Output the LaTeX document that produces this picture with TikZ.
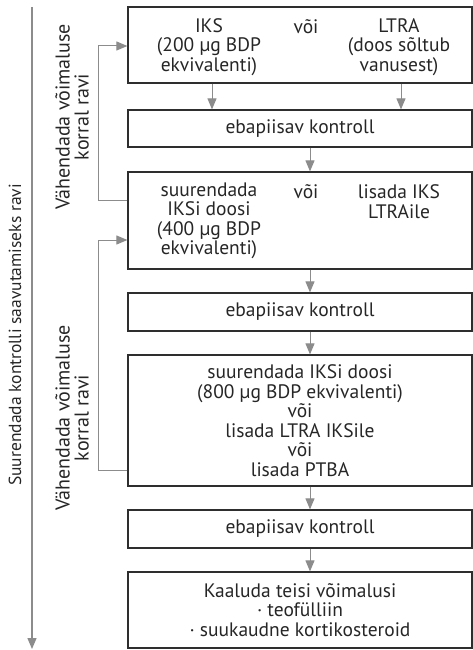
\documentclass[tikz,border=0pt]{standalone}
\usepackage{fontspec}
\setmainfont{PT Sans}
\usetikzlibrary{arrows.meta}
\definecolor{linegray}{HTML}{8C8C8C}
\definecolor{boxline}{HTML}{2E2E2E}
\definecolor{txt}{HTML}{262626}
\begin{document}
\begin{tikzpicture}[x=1pt, y=-1pt, >={Triangle[length=11pt,width=9pt]},
    font=\fontsize{19.5}{19.5}\selectfont, text=txt]
  \tikzset{box/.style={draw=boxline, line width=1.2pt, minimum width=344pt, inner sep=0pt, align=center},
           txtcol/.style={align=center, inner sep=0pt},
           arr/.style={->, draw=linegray, line width=1pt},
           sidelabel/.style={rotate=90, align=center, inner sep=0pt}}
  \useasboundingbox (0,0) rectangle (473,650);
  % boxes
  \node[box, minimum height=76pt]  (b1) at (300,45) {};
  \node[box, minimum height=37pt]  (b2) at (300,128.5) {ebapiisav kontroll};
  \node[box, minimum height=97pt]  (b3) at (300,220.5) {};
  \node[box, minimum height=38pt]  (b4) at (300,312) {ebapiisav kontroll};
  \node[box, minimum height=131pt] (b5) at (300,420.5) {suurendada IKSi doosi\\(800 µg BDP ekvivalenti)\\või\\lisada LTRA IKSile\\või\\lisada PTBA};
  \node[box, minimum height=38pt]  (b6) at (300,529) {ebapiisav kontroll};
  \node[box, minimum height=76pt]  (b7) at (300,610) {Kaaluda teisi võimalusi\\· teofülliin\\· suukaudne kortikosteroid};
  % text inside the split boxes
  \node[txtcol] (iks)  at (209,47)  {IKS\\(200 µg BDP\\ekvivalenti)};
  \node[txtcol] (voi1) at (306,27)  {või};
  \node[txtcol] (ltra) at (399,47)  {LTRA\\(doos sõltub\\vanusest)};
  \node[txtcol] (ikst) at (209,221) {suurendada\\IKSi doosi\\(400 µg BDP\\ekvivalenti)};
  \node[txtcol] (voi2) at (306,192) {või};
  \node[txtcol] (lisa) at (399,201.5) {lisada IKS\\LTRAile};
  % downward steps
  \draw[arr] ([xshift=3pt]iks.south |- b1.south) -- ([xshift=3pt]iks.south |- b2.north);
  \draw[arr] ([xshift=2pt]ltra.south |- b1.south) -- ([xshift=2pt]ltra.south |- b2.north);
  \draw[arr] ([xshift=10pt]b2.south) -- ([xshift=10pt]b3.north);
  \draw[arr] ([xshift=10pt]b3.south) -- ([xshift=10pt]b4.north);
  \draw[arr] ([xshift=10pt]b4.south) -- ([xshift=10pt]b5.north);
  \draw[arr] ([xshift=10pt]b5.south) -- ([xshift=10pt]b6.north);
  \draw[arr] ([xshift=10pt]b6.south) -- ([xshift=10pt]b7.north);
  % step-down loops
  \draw[arr] ([yshift=20.5pt]b3.west) -- ++(-29,0) |- ([yshift=-1pt]b1.west);
  \draw[arr] ([yshift=-49.5pt]b5.west) -- ++(-29,0) |- ([yshift=-19.5pt]b3.west);
  \node[sidelabel, font=\fontsize{20}{19}\selectfont] (down1) at (72,117) {Vähendada võimaluse\\korral ravi};
  \node[sidelabel, font=\fontsize{20}{19}\selectfont] (down2) at (72,418) {Vähendada võimaluse\\korral ravi};
  % overall direction
  \coordinate (start) at (32,7);
  \coordinate (finish) at (32,649);
  \draw[arr, line width=1.4pt] (start) -- (finish);
  \node[sidelabel, font=\fontsize{17.5}{19}\selectfont] (up) at (15,335) {Suurendada kontrolli saavutamiseks ravi};
\end{tikzpicture}
\end{document}
